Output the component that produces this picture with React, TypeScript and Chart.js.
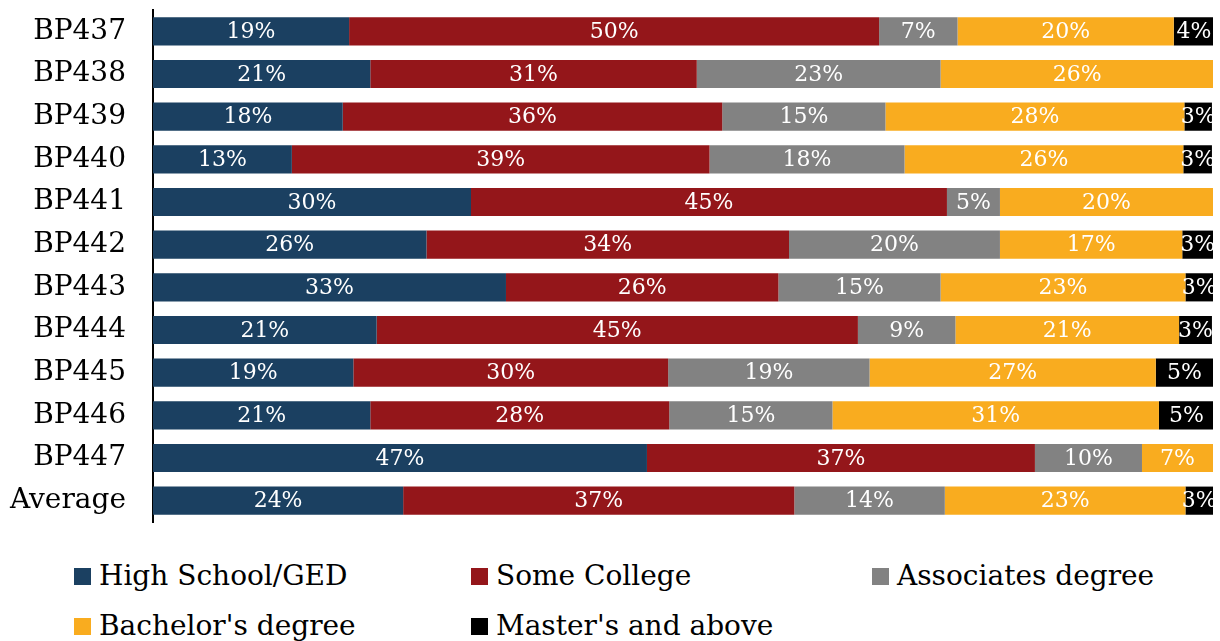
import React, { useEffect, useRef } from "react";
import { Chart, registerables } from "chart.js";

Chart.register(...registerables);

const categories = ["BP437", "BP438", "BP439", "BP440", "BP441", "BP442", "BP443", "BP444", "BP445", "BP446", "BP447", "Average"];
const highSchool = [18.5, 20.5, 17.9, 13.1, 30.0, 25.8, 33.3, 21.1, 18.9, 20.5, 46.6, 23.6];
const someCollege = [50.0, 30.8, 35.8, 39.4, 44.9, 34.2, 25.7, 45.4, 29.7, 28.2, 36.6, 36.9];
const associates = [7.4, 23.0, 15.4, 18.4, 5.0, 19.9, 15.3, 9.2, 19.0, 15.4, 10.1, 14.2];
const bachelors = [20.4, 25.8, 28.2, 26.3, 20.1, 17.2, 23.1, 21.1, 27.0, 30.8, 6.7, 22.7];
const masters = [3.8, 0, 2.6, 2.7, 0, 2.9, 2.6, 3.1, 5.4, 5.2, 0, 2.6];

const seriesNames = ["High School/GED", "Some College", "Associates degree", "Bachelor's degree", "Master's and above"];
const seriesColors = ["#1B4061", "#94161A", "#828282", "#F9AC1F", "#000000"];
const seriesValues = [highSchool, someCollege, associates, bachelors, masters];

const FONT = "'DejaVu Serif', serif";

const valueLabels = {
  id: "valueLabels",
  afterDatasetsDraw(chart: any) {
    const ctx = chart.ctx;
    ctx.save();
    ctx.font = `22px ${FONT}`;
    ctx.fillStyle = "#ffffff";
    ctx.textAlign = "center";
    ctx.textBaseline = "middle";
    chart.data.datasets.forEach((ds: any, di: number) => {
      const meta = chart.getDatasetMeta(di);
      meta.data.forEach((bar: any, i: number) => {
        const v = ds.data[i];
        if (!v) return;
        const cx = (bar.x + bar.base) / 2;
        ctx.fillText(`${Math.round(v)}%`, cx, bar.y + 1);
      });
    });
    ctx.restore();
  },
};

export default function App() {
  const ref = useRef<HTMLCanvasElement>(null);
  useEffect(() => {
    if (!ref.current) return;
    const chart = new Chart(ref.current, {
      type: "bar",
      data: {
        labels: categories,
        datasets: seriesValues.map((vals, i) => ({
          label: seriesNames[i],
          data: vals,
          backgroundColor: seriesColors[i],
          borderWidth: 0,
          categoryPercentage: 1,
          barPercentage: 0.66,
        })),
      },
      options: {
        indexAxis: "y",
        animation: false,
        responsive: false,
        maintainAspectRatio: false,
        layout: { padding: { top: 10, bottom: 8, left: 0, right: 7 } },
        plugins: {
          legend: { display: false },
          tooltip: { enabled: false },
        },
        scales: {
          x: {
            stacked: true,
            min: 0,
            max: 100,
            display: false,
          },
          y: {
            stacked: true,
            grid: { display: false, drawTicks: false },
            border: { display: true, color: "#000000", width: 2 },
            ticks: {
              color: "#000000",
              font: { family: FONT, size: 28 },
              padding: 27,
            },
            afterFit: (scale: any) => {
              scale.width = 153;
              scale.paddingTop = 0;
              scale.paddingBottom = 0;
            },
          },
        },
      },
      plugins: [valueLabels],
    });
    return () => chart.destroy();
  }, []);

  const legendPos = [
    { x: 74, y: 568 },
    { x: 471, y: 568 },
    { x: 872, y: 568 },
    { x: 74, y: 618 },
    { x: 471, y: 618 },
  ];

  return (
    <div style={{ position: "absolute", left: 0, top: 0, width: 1220, height: 641, overflow: "hidden", background: "#fff" }}>
      <canvas ref={ref} width={1220} height={530} style={{ display: "block", width: 1220, height: 530 }} />
      {seriesNames.map((name, i) => (
        <div
          key={name}
          style={{
            position: "absolute",
            left: legendPos[i].x,
            top: legendPos[i].y - 9,
            display: "flex",
            alignItems: "center",
            fontFamily: FONT,
            fontSize: 28,
            color: "#000",
            whiteSpace: "nowrap",
            lineHeight: "34px",
          }}
        >
          <span style={{ display: "inline-block", width: 17, height: 17, background: seriesColors[i], marginRight: 8 }} />
          <span>{name}</span>
        </div>
      ))}
    </div>
  );
}
